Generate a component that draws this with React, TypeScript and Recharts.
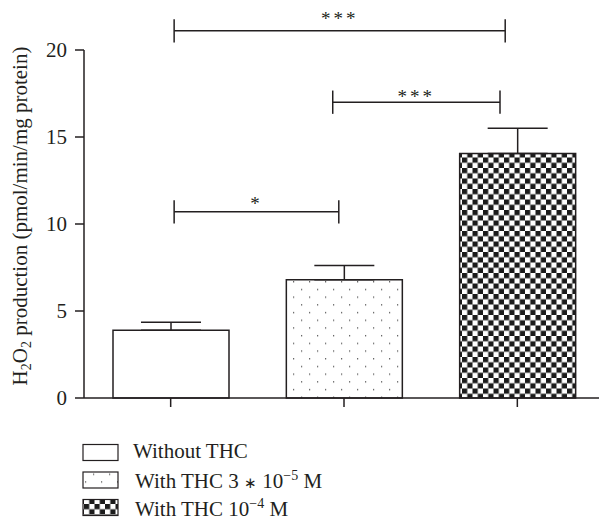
import React from "react";
import {
  BarChart,
  Bar,
  XAxis,
  YAxis,
  Cell,
  ErrorBar,
  ReferenceLine,
  ReferenceDot,
} from "recharts";

const groups = ["Without THC", "With THC 3e-5 M", "With THC 1e-4 M"];
const means = [3.9, 6.8, 14.05];
const sems = [0.46, 0.82, 1.45];
const yTicks = [0, 5, 10, 15, 20];

// significance brackets, x in category units (group i sits at i + 0.5)
const bracketFrom = [0.52, 1.435, 0.52];
const bracketTo = [2.43, 2.4, 1.47];
const bracketY = [21.1, 17.0, 10.7];
const bracketStars = ["***", "***", "*"];
const starGap = [15.5, 9.2, 11.3];
const bracketTick = 0.67;

const ink = "#231f20";
const serif = "'Liberation Serif', 'Times New Roman', serif";
const fills = ["#ffffff", "url(#dotFill)", "url(#checkFill)"];

const data = groups.map((name, i) => ({
  name,
  pos: i + 0.5,
  mean: means[i],
  err: [0, sems[i]],
}));
const xTicks = data.map((d) => d.pos);

function Patterns({ prefix }: { prefix: string }) {
  return (
    <defs>
      <pattern id={`${prefix}dotFill`} width={16} height={15.4} patternUnits="userSpaceOnUse">
        <rect width={16} height={15.4} fill="#fff" />
        <rect x={5} y={4} width={1.2} height={1.2} fill="#444" />
        <rect x={13} y={11.7} width={1.2} height={1.2} fill="#444" />
      </pattern>
      <pattern id={`${prefix}checkFill`} width={10.5} height={10.5} patternUnits="userSpaceOnUse">
        <rect width={10.5} height={10.5} fill="#fff" />
        <rect width={5.25} height={5.25} fill="#1b1b1b" />
        <rect x={5.25} y={5.25} width={5.25} height={5.25} fill="#1b1b1b" />
      </pattern>
    </defs>
  );
}

const starLabel = (text: string, gap: number) => (props: any) => {
  const vb = props.viewBox || {};
  const cx = (vb.x || 0) + (vb.width || 0) / 2;
  const cy = (vb.y || 0) + (vb.height || 0) / 2;
  const size = 19;
  return (
    <text
      x={cx}
      y={cy - gap + size * 0.5}
      textAnchor="middle"
      fontSize={size}
      letterSpacing={3}
      fill={ink}
      fontFamily={serif}
    >
      {text}
    </text>
  );
};

const yLabel = (props: any) => {
  const vb = props.viewBox || {};
  const cy = (vb.y || 0) + (vb.height || 0) / 2 - 8;
  return (
    <text
      transform={`rotate(-90, 27, ${cy})`}
      x={27}
      y={cy}
      textAnchor="middle"
      fontSize={21}
      fill={ink}
      fontFamily={serif}
    >
      H<tspan fontSize={14} dy={4}>2</tspan>
      <tspan dy={-4}>O</tspan>
      <tspan fontSize={14} dy={4}>2</tspan>
      <tspan dy={-4}> production (pmol/min/mg protein)</tspan>
    </text>
  );
};

const legendRows = [
  { box: 444.5, base: 458, x: 133, fill: "#fff" },
  { box: 472, base: 488, x: 135, fill: "url(#lgdotFill)" },
  { box: 499.5, base: 516, x: 135, fill: "url(#lgcheckFill)" },
];

export default function App() {
  return (
    <div
      style={{
        position: "absolute",
        left: 0,
        top: 0,
        width: 599,
        height: 522,
        overflow: "hidden",
        background: "#fff",
        fontFamily: serif,
      }}
    >
      <BarChart
        width={610}
        height={522}
        data={data}
        margin={{ top: 50, right: 6, bottom: 114, left: 0 }}
      >
        <Patterns prefix="" />
        <XAxis
          dataKey="pos"
          type="number"
          domain={[0, 3]}
          allowDataOverflow
          ticks={xTicks}
          tick={() => <g />}
          tickSize={9}
          height={10}
          axisLine={{ stroke: ink, strokeWidth: 1.5 }}
          tickLine={{ stroke: ink, strokeWidth: 1.5 }}
        />
        <YAxis
          width={84}
          domain={[0, 20]}
          ticks={yTicks}
          tickSize={9}
          tickMargin={8}
          axisLine={{ stroke: ink, strokeWidth: 1.5 }}
          tickLine={{ stroke: ink, strokeWidth: 1.5 }}
          tick={{ fill: ink, fontSize: 21, fontFamily: serif }}
          label={{ content: yLabel }}
        />
        <Bar
          dataKey="mean"
          barSize={116}
          stroke={ink}
          strokeWidth={1.5}
          isAnimationActive={false}
        >
          {data.map((d, i) => (
            <Cell key={d.name} fill={fills[i]} />
          ))}
          <ErrorBar
            dataKey="err"
            width={30}
            stroke={ink}
            strokeWidth={1.5}
            isAnimationActive={false}
          />
        </Bar>
        {bracketY.map((y, i) => (
          <ReferenceLine
            key={`b${i}`}
            segment={[
              { x: bracketFrom[i], y },
              { x: bracketTo[i], y },
            ]}
            stroke={ink}
            strokeWidth={1.5}
            ifOverflow="visible"
          />
        ))}
        {bracketY.map((y, i) => (
          <ReferenceLine
            key={`l${i}`}
            segment={[
              { x: bracketFrom[i], y: y - bracketTick },
              { x: bracketFrom[i], y: y + bracketTick },
            ]}
            stroke={ink}
            strokeWidth={1.5}
            ifOverflow="visible"
          />
        ))}
        {bracketY.map((y, i) => (
          <ReferenceLine
            key={`r${i}`}
            segment={[
              { x: bracketTo[i], y: y - bracketTick },
              { x: bracketTo[i], y: y + bracketTick },
            ]}
            stroke={ink}
            strokeWidth={1.5}
            ifOverflow="visible"
          />
        ))}
        {bracketY.map((y, i) => (
          <ReferenceDot
            key={`s${i}`}
            x={(bracketFrom[i] + bracketTo[i]) / 2}
            y={y}
            r={0}
            fill="none"
            stroke="none"
            ifOverflow="visible"
            label={{ content: starLabel(bracketStars[i], starGap[i]) }}
          />
        ))}
      </BarChart>
      <svg
        width={599}
        height={522}
        style={{ position: "absolute", left: 0, top: 0, pointerEvents: "none" }}
      >
        <Patterns prefix="lg" />
        {legendRows.map((r, i) => (
          <rect
            key={`box${i}`}
            x={83}
            y={r.box}
            width={35}
            height={16}
            fill={r.fill}
            stroke={ink}
            strokeWidth={1.2}
          />
        ))}
        <text x={legendRows[0].x} y={legendRows[0].base} fontSize={21} fill={ink} fontFamily={serif}>
          Without THC
        </text>
        <text x={legendRows[1].x} y={legendRows[1].base} fontSize={21} fill={ink} fontFamily={serif}>
          With THC 3 <tspan fontSize={15}>∗</tspan> 10
          <tspan fontSize={14} dy={-8}>−5</tspan>
          <tspan dy={8}> M</tspan>
        </text>
        <text x={legendRows[2].x} y={legendRows[2].base} fontSize={21} fill={ink} fontFamily={serif}>
          With THC 10<tspan fontSize={14} dy={-8}>−4</tspan>
          <tspan dy={8}> M</tspan>
        </text>
      </svg>
    </div>
  );
}
